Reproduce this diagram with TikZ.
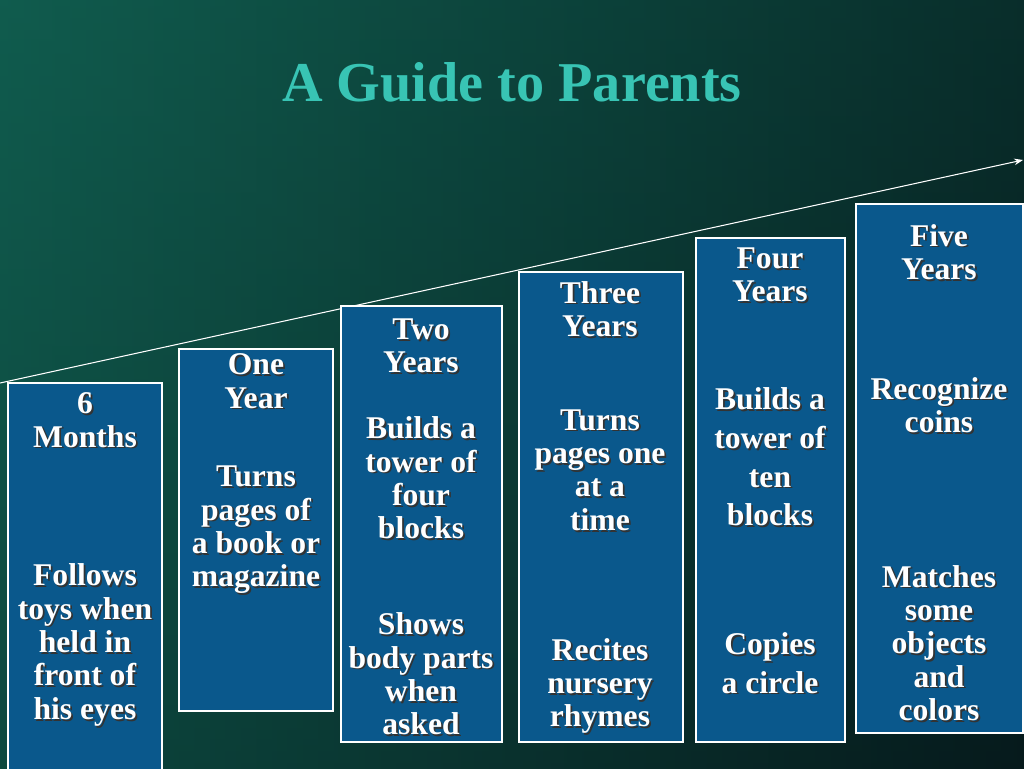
\documentclass[tikz,border=0pt]{standalone}
\usepackage{fontspec}
\setmainfont{Liberation Serif}
\usetikzlibrary{arrows.meta}
\definecolor{bgtop}{RGB}{16, 92, 78}
\definecolor{bgdark}{RGB}{6, 26, 28}
\definecolor{boxblue}{RGB}{10, 88, 140}
\definecolor{titleteal}{RGB}{56, 196, 180}

\tikzset{
    agebox/.style={draw=white, line width=0.6pt, fill=boxblue, inner sep=0pt},
    agetext/.style={text=white, font=\bfseries\fontsize{18}{19}\selectfont, align=center, inner sep=0pt},
    shadowtext/.style={agetext, text=black!80, xshift=0.035cm, yshift=-0.035cm}
}
% text with a drop shadow
\newcommand{\agelabel}[3]{%
    \node[shadowtext] at (#1) {#3};
    \node[agetext] (#2) at (#1) {#3};
}

\begin{document}
\begin{tikzpicture}[x=0.02cm, y=-0.02cm]
    \shade[left color=bgtop, right color=bgdark] (0,0) rectangle (1024,768);
    \shade[top color=bgtop, bottom color=bgdark, opacity=0.3] (0,0) rectangle (1024,768);
    \useasboundingbox (0,0) rectangle (1024,768);

    \node[text=titleteal, font=\bfseries\fontsize{32}{36}\selectfont] (title) at (512,82) {A Guide to Parents};

    % staircase line
    \coordinate (start) at (0,383);
    \coordinate (end) at (1023,160);
    \draw[white, line width=0.6pt, -{Stealth[length=5pt]}] (start) -- (end);

    % boxes
    \path[agebox] (8,383) rectangle (162,770);
    \path[agebox] (179,349) rectangle (333,711);
    \path[agebox] (341,306) rectangle (502,742);
    \path[agebox] (519,272) rectangle (683,742);
    \path[agebox] (696,238) rectangle (845,742);
    \path[agebox] (856,204) rectangle (1023,733);

    % six months
    \agelabel{85,420}{m6}{6\\Months}
    \agelabel{85,645}{m6a}{Follows\\toys when\\held in\\front of\\his eyes}
    % one year
    \agelabel{256,381}{y1}{One\\Year}
    \agelabel{256,530}{y1a}{Turns\\pages of\\a book or\\magazine}
    % two years
    \agelabel{421,346}{y2}{Two\\Years}
    \agelabel{421,478}{y2a}{Builds a\\tower of\\four\\blocks}
    \agelabel{421,674}{y2b}{Shows\\body parts\\when\\asked}
    % three years
    \agelabel{600,309}{y3}{Three\\Years}
    \agelabel{600,470}{y3a}{Turns\\pages one\\at a\\time}
    \agelabel{600,686}{y3b}{Recites\\nursery\\rhymes}
    % four years
    \agelabel{770,275}{y4}{Four\\Years}
    \agelabel{770,457}{y4a}{Builds a\\[3pt]tower of\\[3pt]ten\\[3pt]blocks}
    \agelabel{770,663}{y4b}{Copies\\[3pt]a circle}
    % five years
    \agelabel{939,252}{y5}{Five\\Years}
    \agelabel{939,405}{y5a}{Recognize\\coins}
    \agelabel{939,643}{y5b}{Matches\\some\\objects\\and\\colors}
\end{tikzpicture}
\end{document}
